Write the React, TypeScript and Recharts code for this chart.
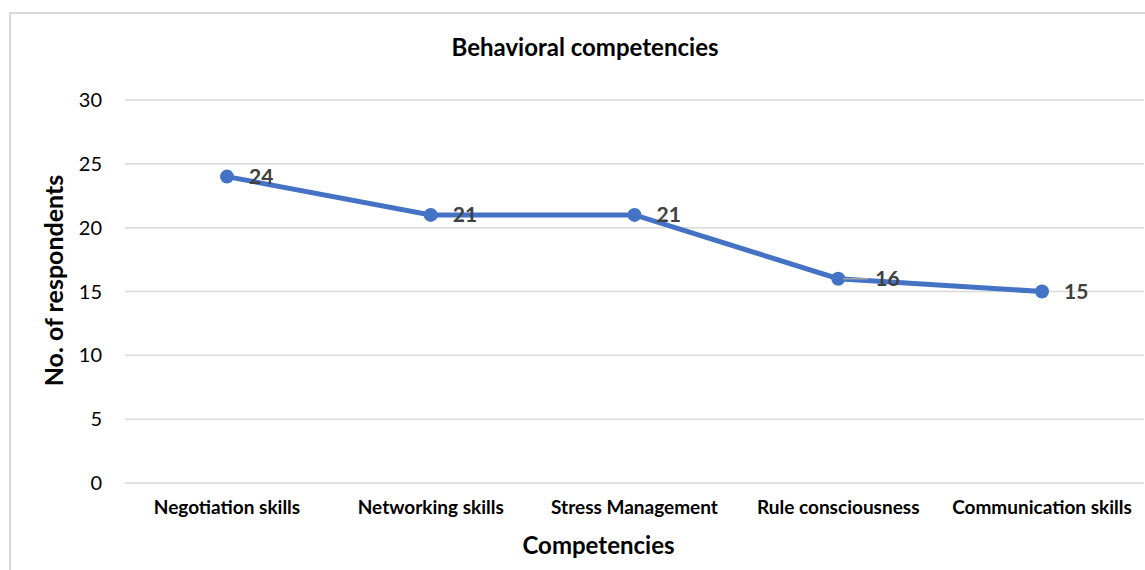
import { LineChart, Line, XAxis, YAxis, CartesianGrid, LabelList, Label } from 'recharts';

const competencies = [
  'Negotiation skills',
  'Networking skills',
  'Stress Management',
  'Rule consciousness',
  'Communication skills',
];
const respondents = [24, 21, 21, 16, 15];
const yTicks = [0, 5, 10, 15, 20, 25, 30];

const data = competencies.map((name, i) => ({ name, value: respondents[i] }));

const FONT = 'Lato, "Open Sans", sans-serif';
const LINE_COLOR = '#4472C4';

function PointLabel(props: any) {
  const { x, y, value, index } = props;
  const withLeader = index === 3;
  const dx = withLeader ? 37 : 22;
  return (
    <g>
      {withLeader && (
        <line x1={x + 5} y1={y} x2={x + 30} y2={y} stroke="#a6a6a6" strokeWidth={1.5} />
      )}
      <text
        x={x + dx}
        y={y + 2}
        dominantBaseline="middle"
        fontFamily={FONT}
        fontWeight={700}
        fontSize={21}
        fill="#404040"
      >
        {value}
      </text>
    </g>
  );
}

export default function App() {
  return (
    <div
      style={{
        position: 'absolute',
        left: 0,
        top: 0,
        width: 1145,
        height: 570,
        overflow: 'hidden',
        background: '#fff',
        fontFamily: FONT,
      }}
    >
      <div
        style={{
          position: 'absolute',
          left: 9,
          top: 12,
          width: 1200,
          height: 600,
          border: '2px solid #d9d9d9',
        }}
      />
      <div
        style={{
          position: 'absolute',
          left: 0,
          top: 32,
          width: 1170,
          textAlign: 'center',
          fontWeight: 700,
          fontSize: 24,
          color: '#000',
        }}
      >
        Behavioral competencies
      </div>
      <div style={{ position: 'absolute', left: 0, top: 0 }}>
        <LineChart width={1145} height={570} data={data} margin={{ top: 100, right: 1, left: 0, bottom: 0 }}>
          <CartesianGrid vertical={false} stroke="#d9d9d9" strokeWidth={1.5} />
          <XAxis
            dataKey="name"
            height={87}
            padding={{ left: 102, right: 102 }}
            axisLine={false}
            tickLine={false}
            tickSize={0}
            tickMargin={18}
            interval={0}
            tick={{ fontFamily: FONT, fontWeight: 700, fontSize: 19, fill: '#000' }}
          >
            <Label
              value="Competencies"
              position="insideBottom"
              offset={16}
              dx={-36}
              style={{ fontFamily: FONT, fontWeight: 700, fontSize: 24, fill: '#000' }}
            />
          </XAxis>
          <YAxis
            width={125}
            domain={[0, 30]}
            ticks={yTicks}
            axisLine={false}
            tickLine={false}
            tickSize={0}
            tickMargin={23}
            tick={{ fontFamily: FONT, fontSize: 20, fill: '#000' }}
          >
            <Label
              content={(p: any) => {
                const vb = p.viewBox || {};
                const cx = 57;
                const cy = (vb.y ?? 100) + (vb.height ?? 383) / 2 - 11;
                return (
                  <text
                    x={cx}
                    y={cy}
                    transform={`rotate(-90 ${cx} ${cy})`}
                    textAnchor="middle"
                    dominantBaseline="middle"
                    fontFamily={FONT}
                    fontWeight={700}
                    fontSize={25}
                    fill="#000"
                  >
                    No. of respondents
                  </text>
                );
              }}
            />
          </YAxis>
          <Line
            type="linear"
            dataKey="value"
            stroke={LINE_COLOR}
            strokeWidth={5}
            dot={{ r: 7, fill: LINE_COLOR, stroke: LINE_COLOR, strokeWidth: 0 }}
            activeDot={false}
            isAnimationActive={false}
          >
            <LabelList dataKey="value" content={PointLabel} />
          </Line>
        </LineChart>
      </div>
    </div>
  );
}
